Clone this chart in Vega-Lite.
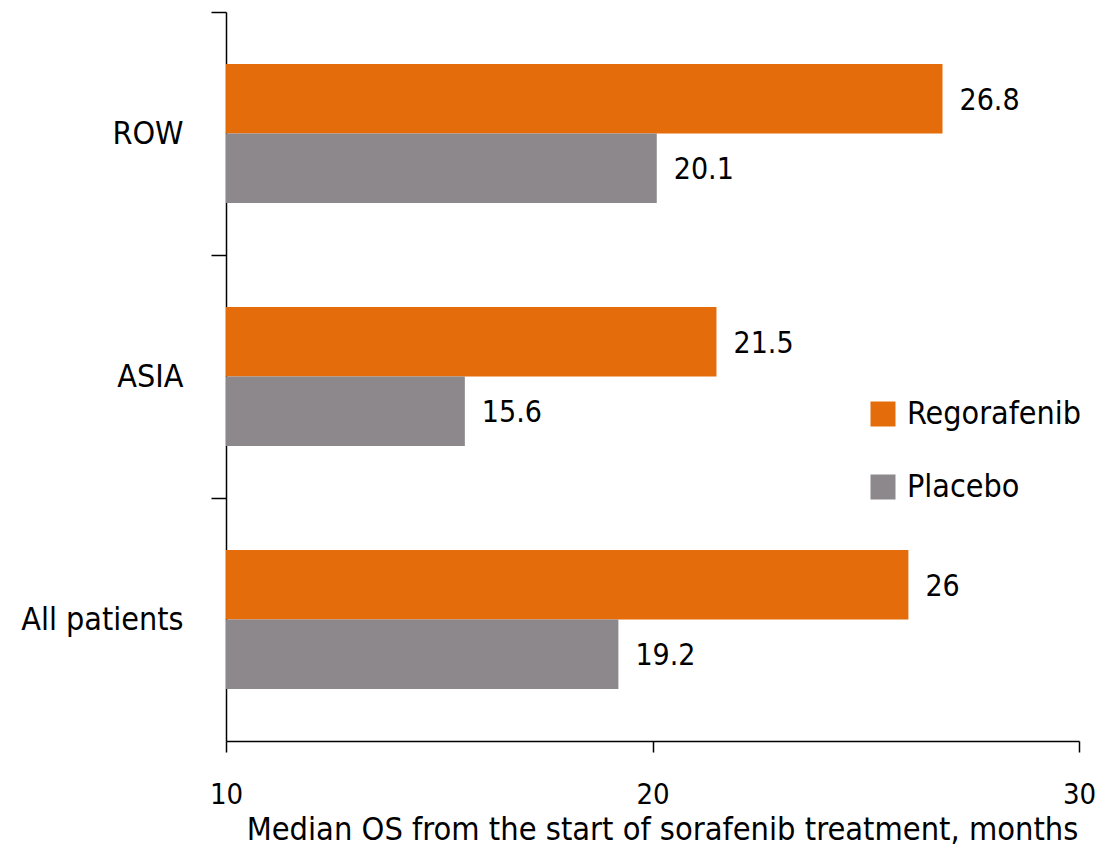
{
  "$schema": "https://vega.github.io/schema/vega-lite/v6.json",
  "autosize": {"type": "none"},
  "padding": {"left": 226, "top": 12, "right": 28, "bottom": 111},
  "width": 853,
  "height": 729,
  "background": "white",
  "config": {
    "font": "DejaVu Sans Condensed, Liberation Sans Narrow, sans-serif",
    "view": {"stroke": null}
  },
  "data": {
    "values": [
      {"group": "ROW", "arm": "Regorafenib", "os": 26.8},
      {"group": "ROW", "arm": "Placebo", "os": 20.1},
      {"group": "ASIA", "arm": "Regorafenib", "os": 21.5},
      {"group": "ASIA", "arm": "Placebo", "os": 15.6},
      {"group": "All patients", "arm": "Regorafenib", "os": 26},
      {"group": "All patients", "arm": "Placebo", "os": 19.2}
    ]
  },
  "encoding": {
    "y": {
      "field": "group",
      "type": "nominal",
      "sort": ["ROW", "ASIA", "All patients"],
      "scale": {"paddingInner": 0, "paddingOuter": 0},
      "axis": {
        "title": null,
        "bandPosition": 0,
        "domainColor": "black",
        "domainWidth": 1.5,
        "tickColor": "black",
        "tickWidth": 1.5,
        "tickSize": 15,
        "labelPadding": 28,
        "labelFontSize": 32,
        "labelColor": "black",
        "labelAlign": "right",
        "labelBaseline": "middle"
      }
    },
    "yOffset": {
      "field": "arm",
      "type": "nominal",
      "sort": ["Regorafenib", "Placebo"],
      "scale": {"paddingInner": 0, "paddingOuter": 0.75}
    }
  },
  "layer": [
    {
      "mark": {"type": "bar"},
      "encoding": {
        "x": {
          "field": "os",
          "type": "quantitative",
          "scale": {"domain": [10, 30], "zero": false, "nice": false},
          "axis": {
            "title": "Median OS from the start of sorafenib treatment, months",
            "titleFontSize": 32.3,
            "titleFontWeight": "normal",
            "titleColor": "black",
            "titlePadding": 4,
            "titleX": 436,
            "values": [10, 20, 30],
            "grid": false,
            "domainColor": "black",
            "domainWidth": 1.5,
            "tickColor": "black",
            "tickWidth": 1.5,
            "tickSize": 11,
            "labelPadding": 28,
            "labelFontSize": 29,
            "labelColor": "black",
            "labelFlush": false
          }
        },
        "x2": {"datum": 10},
        "color": {
          "field": "arm",
          "type": "nominal",
          "sort": ["Regorafenib", "Placebo"],
          "scale": {"domain": ["Regorafenib", "Placebo"], "range": ["#E46C0A", "#8C888B"]},
          "legend": {
            "title": null,
            "orient": "none",
            "legendX": 641,
            "legendY": 386,
            "symbolType": "square",
            "symbolSize": 625,
            "symbolStrokeWidth": 0,
            "labelFontSize": 32,
            "labelColor": "black",
            "labelOffset": 8,
            "labelLimit": 0,
            "rowPadding": 41
          }
        }
      }
    },
    {
      "mark": {"type": "text", "align": "left", "baseline": "middle", "dx": 17, "dy": 2, "fontSize": 30, "color": "black"},
      "encoding": {
        "x": {"field": "os", "type": "quantitative"},
        "text": {"field": "os", "type": "quantitative"}
      }
    }
  ]
}
